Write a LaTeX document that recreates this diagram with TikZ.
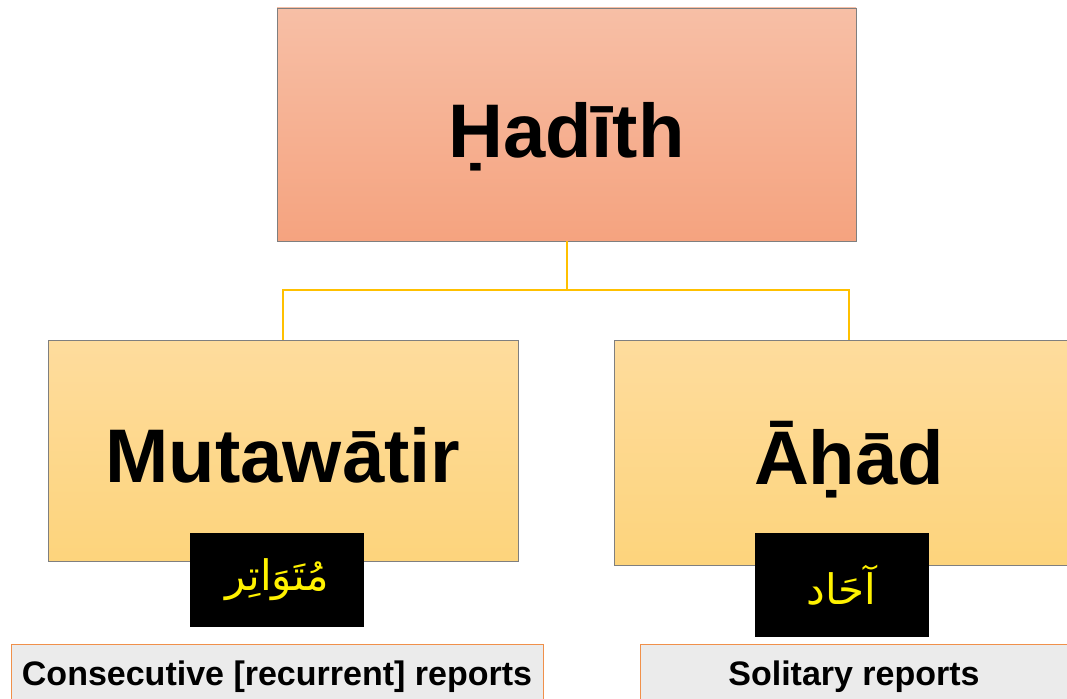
\documentclass[tikz,border=0pt]{standalone}
\usepackage{fontspec}
\setmainfont{Liberation Sans}
\newfontfamily\arabicfont[Script=Arabic]{DejaVu Sans}
\TeXXeTstate=1
\definecolor{salmontop}{HTML}{F7BFA6}
\definecolor{salmonbot}{HTML}{F5A37F}
\definecolor{goldtop}{HTML}{FEDC9D}
\definecolor{goldbot}{HTML}{FDD47C}
\definecolor{boxline}{HTML}{7F7F7F}
\definecolor{linkline}{HTML}{FFC000}
\definecolor{noteline}{HTML}{F0904A}
\definecolor{notefill}{HTML}{EBEBEB}
\begin{document}
\begin{tikzpicture}[x=1pt,y=-1pt,
		root/.style={draw=boxline,top color=salmontop,bottom color=salmonbot,minimum width=579pt,minimum height=233pt,text height=65pt,text depth=0pt,font=\fontsize{76}{80}\selectfont\bfseries},
		branch/.style={draw=boxline,top color=goldtop,bottom color=goldbot,minimum width=470pt,text height=63pt,text depth=0pt,font=\fontsize{76}{80}\selectfont\bfseries},
		arabic/.style={fill=black,text=yellow,minimum width=174pt,font=\arabicfont\fontsize{42}{48}\selectfont},
		note/.style={draw=noteline,fill=notefill,minimum height=66pt,font=\fontsize{34}{38}\selectfont\bfseries},
		link/.style={draw=linkline,line width=2pt}]
		\useasboundingbox[fill=white] (0,0) rectangle (1067,698);
		\node[root] (hadith) at (566.5,124.5) {Ḥadīth};
		\node[branch,minimum height=221pt] (mutawatir) at (283,450.5) {Mutawātir};
		\node[branch,minimum height=225pt] (ahad) at (849,452.5) {Āḥād};
		\coordinate (bus) at (0,290);
		\draw[link] (hadith.south) -- (hadith.south |- bus) -| (mutawatir.north);
		\draw[link] (hadith.south |- bus) -| (ahad.north);
		\node[arabic,minimum height=94pt] (mutawatirar) at (277,580) {\beginR مُتَوَاتِر\endR};
		\node[arabic,minimum height=104pt] (ahadar) at (841.5,585) {\beginR آحَاد\endR};
		\node[note,minimum width=532pt] (mutawatirnote) at (277,677) {Consecutive [recurrent] reports};
		\node[note,minimum width=428pt] (ahadnote) at (854,677) {Solitary reports};
	\end{tikzpicture}
\end{document}
